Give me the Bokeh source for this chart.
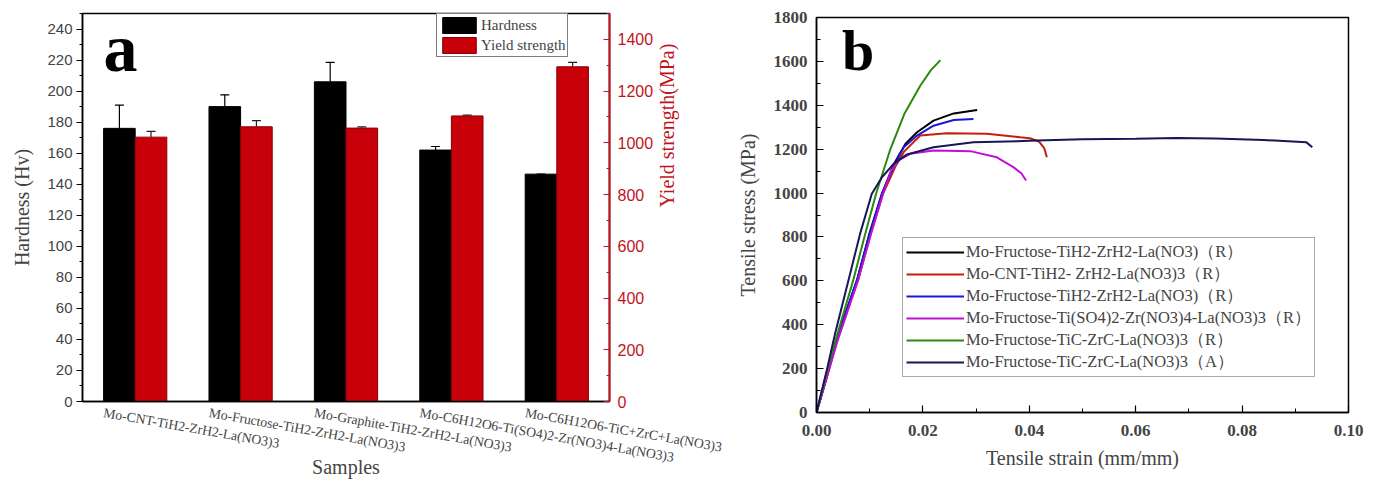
import math
import numpy as np
from bokeh.plotting import figure
from bokeh.layouts import row
from bokeh.models import (Range1d, LinearAxis, SingleIntervalTicker, FixedTicker, ColumnDataSource,
                          Whisker, TeeHead, Legend, LegendItem, Label, NumeralTickFormatter)
from bokeh.transform import dodge
from bokeh.embed import file_html
from bokeh.resources import INLINE

# ---------------- data: panel a ----------------
samples = ["Mo-CNT-TiH2-ZrH2-La(NO3)3",
           "Mo-Fructose-TiH2-ZrH2-La(NO3)3",
           "Mo-Graphite-TiH2-ZrH2-La(NO3)3",
           "Mo-C6H12O6-Ti(SO4)2-Zr(NO3)4-La(NO3)3",
           "Mo-C6H12O6-TiC+ZrC+La(NO3)3"]
hardness = [176, 190, 206, 162, 146.5]
hardness_err = [15, 7.6, 12.5, 2.3, 0]
yield_strength = [1022, 1062, 1057, 1104, 1294]
yield_err = [22, 24, 5, 3, 17]

# ---------------- data: panel b ----------------
curve_labels = ["Mo-Fructose-TiH2-ZrH2-La(NO3)（R）",
                "Mo-CNT-TiH2- ZrH2-La(NO3)3（R）",
                "Mo-Fructose-TiH2-ZrH2-La(NO3)（R）",
                "Mo-Fructose-Ti(SO4)2-Zr(NO3)4-La(NO3)3（R）",
                "Mo-Fructose-TiC-ZrC-La(NO3)3（R）",
                "Mo-Fructose-TiC-ZrC-La(NO3)3（A）"]
curve_colors = ["#000000", "#c41e0c", "#1818d8", "#c010d8", "#2a8a10", "#16165a"]

strain_black = [0, 0.002, 0.004, 0.0076, 0.010, 0.0123, 0.0145, 0.0167, 0.0189, 0.022, 0.0258, 0.0302]
stress_black = [0, 170, 350, 602, 820, 997, 1130, 1224, 1277, 1330, 1363, 1379]

strain_red = [0, 0.002, 0.004, 0.0078, 0.0102, 0.0125, 0.0148, 0.0165, 0.0195, 0.0245, 0.032, 0.0383, 0.0401, 0.0418, 0.0428, 0.0433]
stress_red = [0, 165, 340, 602, 815, 997, 1120, 1190, 1262, 1272, 1270, 1254, 1250, 1235, 1205, 1163]

strain_blue = [0, 0.002, 0.004, 0.0076, 0.010, 0.0123, 0.0145, 0.0164, 0.0189, 0.022, 0.0258, 0.0295]
stress_blue = [0, 170, 350, 602, 815, 997, 1120, 1209, 1262, 1307, 1333, 1338]

strain_magenta = [0, 0.002, 0.004, 0.0078, 0.0102, 0.0125, 0.0140, 0.0155, 0.0176, 0.022, 0.0289, 0.0339, 0.037, 0.0385, 0.0394]
stress_magenta = [0, 165, 330, 602, 810, 997, 1100, 1150, 1179, 1194, 1191, 1163, 1118, 1090, 1057]

strain_green = [0, 0.002, 0.0036, 0.0069, 0.009, 0.0112, 0.0138, 0.0165, 0.0195, 0.0215, 0.0233]
stress_green = [0, 190, 330, 602, 800, 997, 1194, 1360, 1489, 1560, 1606]

strain_navy = [0, 0.002, 0.0035, 0.006, 0.0082, 0.0104, 0.0123, 0.0145, 0.017, 0.022, 0.0295, 0.0414,
               0.05, 0.06, 0.0677, 0.075, 0.084, 0.0921, 0.0932]
stress_navy = [0, 200, 360, 602, 815, 997, 1072, 1133, 1176, 1209, 1231, 1239,
               1245, 1248, 1251, 1249, 1242, 1231, 1209]

SERIF = "Liberation Serif"
SANS = "Liberation Sans"
RED = "#c8000a"
AXRED = "#c0141c"

# ================= panel a =================
p1 = figure(width=733, height=481, output_backend="svg", toolbar_location=None,
            x_range=Range1d(0.5, 5.5), y_range=Range1d(0, 250),
            min_border_left=82, min_border_right=124, min_border_top=13, min_border_bottom=80)
p1.extra_y_ranges = {"ys": Range1d(0, 1500)}
p1.xgrid.visible = False
p1.ygrid.visible = False
p1.outline_line_color = "black"
p1.outline_line_width = 1.5

idx = list(range(1, len(samples) + 1))
src = ColumnDataSource(dict(
    idx=idx,
    hardness=hardness,
    hu=[h + e for h, e in zip(hardness, hardness_err)],
    ys=yield_strength,
    yu=[y + e for y, e in zip(yield_strength, yield_err)],
))

rb = p1.vbar(x=dodge("idx", -0.15, range=p1.x_range), top="hardness", width=0.3, source=src,
             fill_color="black", line_color="black")
rr = p1.vbar(x=dodge("idx", 0.15, range=p1.x_range), top="ys", width=0.3, source=src,
             y_range_name="ys", fill_color=RED, line_color="#8a0008")

wb = Whisker(source=src, base=dodge("idx", -0.15, range=p1.x_range), lower="hardness", upper="hu",
             line_color="black", line_width=1.2,
             upper_head=TeeHead(size=9, line_color="black", line_width=1.2), lower_head=None)
wr = Whisker(source=src, base=dodge("idx", 0.15, range=p1.x_range), lower="ys", upper="yu",
             y_range_name="ys", line_color="#222222", line_width=1.2,
             upper_head=TeeHead(size=9, line_color="#222222", line_width=1.2), lower_head=None)
p1.add_layout(wb)
p1.add_layout(wr)

# left axis
ya = p1.yaxis[0]
ya.ticker = SingleIntervalTicker(interval=20, num_minor_ticks=2)
ya.axis_label = "Hardness (Hv)"
ya.axis_label_text_font = SERIF
ya.axis_label_text_font_style = "normal"
ya.axis_label_text_font_size = "20px"
ya.axis_label_standoff = 11
ya.major_label_text_font = SANS
ya.major_label_text_font_size = "15px"
ya.major_label_standoff = 4
ya.major_tick_out = 6
ya.major_tick_in = 0
ya.minor_tick_out = 3
ya.minor_tick_in = 0
ya.axis_line_width = 1.5
ya.major_tick_line_width = 1.2

# right axis
ra = LinearAxis(y_range_name="ys", ticker=SingleIntervalTicker(interval=200, num_minor_ticks=2),
                axis_label="Yield strength(MPa)")
ra.axis_line_color = AXRED
ra.axis_line_width = 2
ra.major_tick_line_color = AXRED
ra.minor_tick_line_color = AXRED
ra.major_tick_in = 6
ra.major_tick_out = 0
ra.minor_tick_in = 3
ra.minor_tick_out = 0
ra.major_label_text_color = AXRED
ra.major_label_text_font = SANS
ra.major_label_text_font_size = "16px"
ra.major_label_standoff = 8
ra.axis_label_text_color = AXRED
ra.axis_label_text_font = SERIF
ra.axis_label_text_font_style = "normal"
ra.axis_label_text_font_size = "20px"
ra.axis_label_standoff = 11
ra.axis_label_orientation = math.pi / 2
p1.add_layout(ra, "right")

# bottom axis: sample names, slanted
xa = p1.xaxis[0]
label_ticks = [i - 0.3 for i in idx]
xa.ticker = FixedTicker(ticks=label_ticks, minor_ticks=[])
xa.major_label_overrides = {t: s for t, s in zip(label_ticks, samples)}
xa.major_label_orientation = -0.175
xa.major_label_text_font = SERIF
xa.major_label_text_font_size = "13.7px"
xa.major_label_standoff = 11
xa.major_tick_out = 0
xa.major_tick_in = 0
xa.major_tick_line_color = None
xa.axis_line_width = 1.5
xa.axis_label = "Samples"
xa.axis_label_text_font = SERIF
xa.axis_label_text_font_style = "normal"
xa.axis_label_text_font_size = "20px"
xa.axis_label_standoff = -19

p1.add_layout(Label(x=0.7, y=228, text="a", text_align="left", text_baseline="alphabetic",
                    text_font=SERIF, text_font_style="bold", text_font_size="68px", text_color="black"))

leg1 = Legend(items=[LegendItem(label="Hardness", renderers=[rb]),
                     LegendItem(label="Yield strength", renderers=[rr])],
              location=(354, 344), glyph_width=42, glyph_height=20, label_height=20,
              label_standoff=1, padding=1, spacing=0, margin=0,
              label_text_font=SERIF, label_text_font_size="15px",
              border_line_color="black", border_line_width=1, background_fill_alpha=1)
p1.add_layout(leg1, "center")

# ================= panel b =================
p2 = figure(width=646, height=481, output_backend="svg", toolbar_location=None,
            x_range=Range1d(0, 0.1), y_range=Range1d(0, 1800),
            min_border_left=83, min_border_right=31, min_border_top=17, min_border_bottom=69)
p2.xgrid.visible = False
p2.ygrid.visible = False
p2.outline_line_color = "black"
p2.outline_line_width = 1.5

for p in (p1, p2):
    if "frame_align" in p.properties():
        p.frame_align = False

curves = [(strain_black, stress_black), (strain_red, stress_red), (strain_blue, stress_blue),
          (strain_magenta, stress_magenta), (strain_green, stress_green), (strain_navy, stress_navy)]
renderers = []
for (sx, sy), c in zip(curves, curve_colors):
    renderers.append(p2.line(sx, sy, line_color=c, line_width=2))

xb = p2.xaxis[0]
xb.ticker = SingleIntervalTicker(interval=0.02, num_minor_ticks=2)
xb.formatter = NumeralTickFormatter(format="0.00")
xb.axis_label = "Tensile strain (mm/mm)"
yb = p2.yaxis[0]
yb.ticker = SingleIntervalTicker(interval=200, num_minor_ticks=2)
yb.axis_label = "Tensile stress (MPa)"
for ax in (xb, yb):
    ax.major_tick_in = 7
    ax.major_tick_out = 0
    ax.minor_tick_in = 4
    ax.minor_tick_out = 0
    ax.axis_line_width = 1.5
    ax.major_tick_line_width = 1.2
    ax.major_label_text_font = SERIF
    ax.major_label_text_font_style = "bold"
    ax.major_label_text_font_size = "17px"
    ax.major_label_standoff = 9
    ax.axis_label_text_font = SERIF
    ax.axis_label_text_font_style = "normal"
    ax.axis_label_text_font_size = "20px"
xb.major_label_standoff = 12
xb.axis_label_standoff = 8
yb.axis_label_standoff = 12

p2.add_layout(Label(x=0.0048, y=1648, text="b", text_align="left", text_baseline="alphabetic",
                    text_font=SERIF, text_font_style="bold", text_font_size="58px", text_color="black"))

leg2 = Legend(items=[LegendItem(label=l, renderers=[r]) for l, r in zip(curve_labels, renderers)],
              location=(86, 35), glyph_width=58, glyph_height=20, label_height=20,
              label_standoff=2, padding=3, spacing=0, margin=0,
              label_text_font=SERIF, label_text_font_size="16.5px",
              border_line_color="#555555", border_line_width=1, background_fill_alpha=1)
p2.add_layout(leg2, "center")

layout = row(p1, p2)
open("out.html", "w").write(file_html(layout, INLINE))
